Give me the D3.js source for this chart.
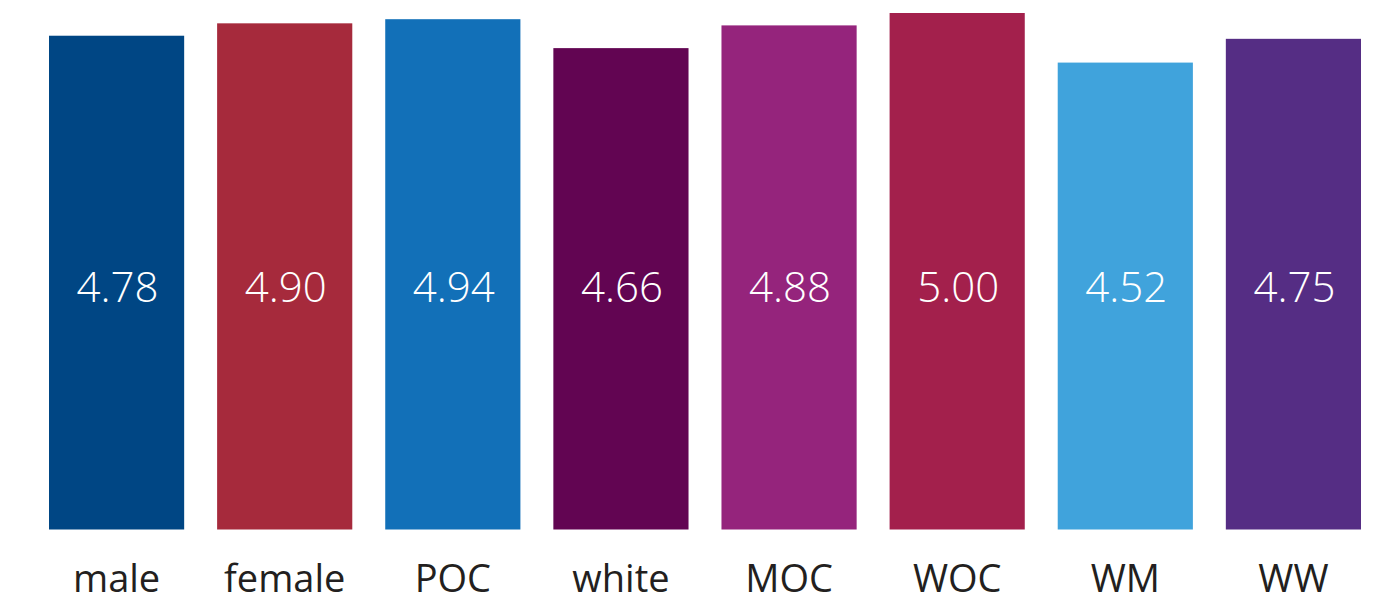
<!DOCTYPE html>
<html><head><meta charset="utf-8">
<script src="https://cdn.jsdelivr.net/npm/d3@7"></script>
<style>html,body{margin:0;padding:0;background:#fff;}svg{display:block;}</style>
</head><body>
<svg id="chart" width="1378" height="606"></svg>
<script>
const categories = ["male","female","POC","white","MOC","WOC","WM","WW"];
const values = [4.78, 4.90, 4.94, 4.66, 4.88, 5.00, 4.52, 4.75];
const colors = ["#004684","#a62a3c","#1270b8","#620552","#95247c","#a3204c","#40a3dc","#552d84"];

const svg = d3.select("#chart");
const x = d3.scaleBand().domain(categories).range([49, 1361]).paddingInner(0.196).paddingOuter(0);
const y = d3.scaleLinear().domain([0, 5]).range([529.5, 13]);

svg.selectAll("rect.bar").data(categories).join("rect")
  .attr("class","bar")
  .attr("x", d => x(d))
  .attr("width", x.bandwidth())
  .attr("y", (d,i) => y(values[i]))
  .attr("height", (d,i) => y(0) - y(values[i]))
  .attr("fill", (d,i) => colors[i]);

svg.selectAll("text.val").data(categories).join("text")
  .attr("class","val")
  .attr("x", d => x(d) + x.bandwidth()/2 + 1)
  .attr("y", 302)
  .attr("text-anchor","middle")
  .attr("fill","#fff")
  .style("font-family","'Open Sans', sans-serif")
  .style("font-weight", 300)
  .style("font-size","42px")
  .text((d,i) => values[i].toFixed(2));

const xAxis = d3.axisBottom(x).tickSize(0).tickPadding(0);
const g = svg.append("g").attr("transform","translate(0,555)").call(xAxis);
g.select(".domain").remove();
g.selectAll("text")
  .attr("dy", null).attr("y", 37)
  .attr("fill","#231f20")
  .style("font-family","'Open Sans', sans-serif")
  .style("font-size","38px");
</script>
</body></html>
